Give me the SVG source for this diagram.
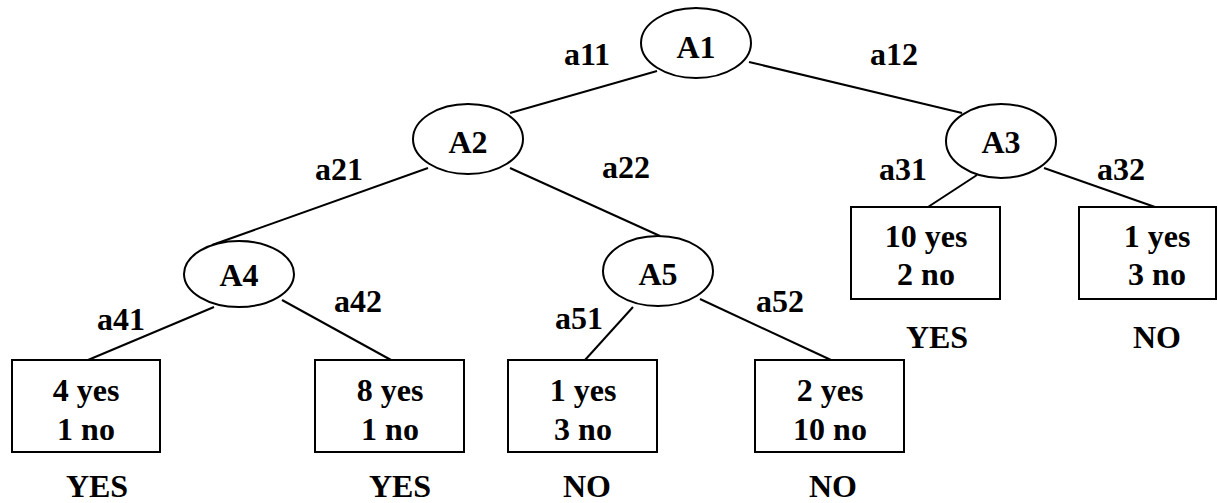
<svg xmlns="http://www.w3.org/2000/svg" width="1218" height="503" viewBox="0 0 1218 503" font-family="'Liberation Serif', 'Times New Roman', Times, serif">
<style>
text{font-family:'Liberation Serif','Times New Roman',Times,serif;font-weight:bold;font-size:32px;fill:#000;text-anchor:middle}
.n ellipse,.n rect{fill:#fff;stroke:#000;stroke-width:2}
#edges line{stroke:#000;stroke-width:2}
</style>
<rect width="1218" height="503" fill="#fff"/>
<g id="edges">
<line x1="657" y1="71" x2="510" y2="113"/>
<line x1="749" y1="62" x2="962" y2="113"/>
<line x1="428" y1="168" x2="212" y2="245"/>
<line x1="510" y1="168" x2="660" y2="236"/>
<line x1="977" y1="175" x2="928" y2="207"/>
<line x1="1044" y1="168" x2="1155" y2="207"/>
<line x1="214" y1="307" x2="88" y2="360"/>
<line x1="282" y1="300" x2="391" y2="360"/>
<line x1="633" y1="307" x2="585" y2="360"/>
<line x1="700" y1="299" x2="831" y2="360"/>
</g>
<g id="labels">
<text x="587" y="65">a11</text>
<text x="894" y="65">a12</text>
<text x="339" y="180">a21</text>
<text x="626" y="178">a22</text>
<text x="903" y="180">a31</text>
<text x="1121" y="180">a32</text>
<text x="121" y="330">a41</text>
<text x="358" y="312">a42</text>
<text x="579" y="329">a51</text>
<text x="780" y="312">a52</text>
</g>
<g id="A1" class="n"><ellipse cx="696" cy="43" rx="55" ry="35"/><text x="696" y="58">A1</text></g>
<g id="A2" class="n"><ellipse cx="468" cy="139" rx="55" ry="35"/><text x="468" y="153">A2</text></g>
<g id="A3" class="n"><ellipse cx="1001" cy="141" rx="55" ry="37"/><text x="1001" y="153">A3</text></g>
<g id="A4" class="n"><ellipse cx="239" cy="274" rx="55" ry="33"/><text x="239" y="286">A4</text></g>
<g id="A5" class="n"><ellipse cx="658" cy="271" rx="55" ry="35"/><text x="658" y="285">A5</text></g>
<g id="L31" class="n"><rect x="851" y="207" width="149" height="92"/><text x="926" y="247">10 yes</text><text x="926" y="285">2 no</text></g>
<g id="L32" class="n"><rect x="1079" y="207" width="137" height="92"/><text x="1157" y="247">1 yes</text><text x="1157" y="285">3 no</text></g>
<g id="L41" class="n"><rect x="12" y="360" width="148" height="92"/><text x="86" y="401">4 yes</text><text x="86" y="440">1 no</text></g>
<g id="L42" class="n"><rect x="315" y="360" width="149" height="92"/><text x="390" y="401">8 yes</text><text x="390" y="440">1 no</text></g>
<g id="L51" class="n"><rect x="508" y="360" width="149" height="92"/><text x="583" y="401">1 yes</text><text x="583" y="440">3 no</text></g>
<g id="L52" class="n"><rect x="755" y="360" width="149" height="92"/><text x="830" y="401">2 yes</text><text x="830" y="440">10 no</text></g>
<g id="classes">
<text x="937" y="348">YES</text>
<text x="1157" y="348">NO</text>
<text x="97" y="497">YES</text>
<text x="400" y="497">YES</text>
<text x="587" y="497">NO</text>
<text x="833" y="497">NO</text>
</g>
</svg>
